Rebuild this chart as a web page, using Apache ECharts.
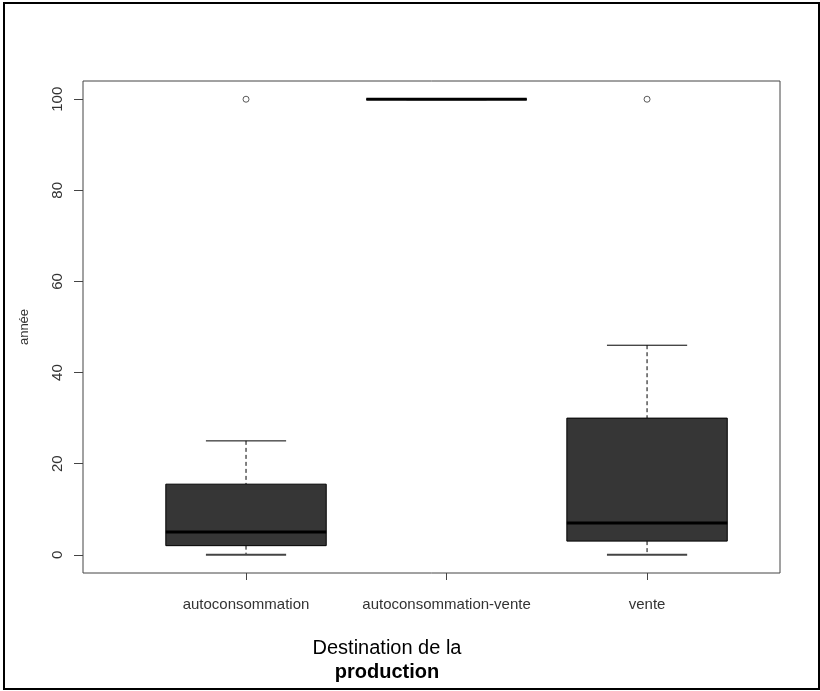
<!DOCTYPE html>
<html>
<head>
<meta charset="utf-8">
<script src="https://cdn.jsdelivr.net/npm/echarts@6/dist/echarts.min.js"></script>
<style>
html,body{margin:0;padding:0;background:#fff;}
#main{width:820px;height:691px;}
</style>
</head>
<body>
<div id="main"></div>
<script>
// ---- data ----
var categories = ['autoconsommation', 'autoconsommation-vente', 'vente'];
var whiskerLow = [0, 100, 0];
var q1 = [2, 100, 3];
var median = [5, 100, 7];
var q3 = [15.5, 100, 30];
var whiskerHigh = [25, 100, 46];
var outlierGroup = [1, 3];
var outlierValue = [100, 100];
var yTicks = [0, 20, 40, 60, 80, 100];
var xTicks = [1, 2, 3];

var boxData = categories.map(function (c, i) {
  return [i + 1, whiskerLow[i], q1[i], median[i], q3[i], whiskerHigh[i]];
});
var outlierData = outlierGroup.map(function (g, i) { return [g, outlierValue[i]]; });

var chart = echarts.init(document.getElementById('main'), null, {renderer: 'canvas'});
var FONT = 'Liberation Sans, Arial, sans-serif';

function renderBox(params, api) {
  var x = api.value(0);
  var lo = api.value(1), b1 = api.value(2), md = api.value(3), b3 = api.value(4), hi = api.value(5);
  var half = 0.4, capHalf = 0.2;
  var pHi = api.coord([x, hi]), pB3 = api.coord([x, b3]), pB1 = api.coord([x, b1]), pLo = api.coord([x, lo]);
  var boxL = api.coord([x - half, b3])[0], boxR = api.coord([x + half, b3])[0];
  var capL = api.coord([x - capHalf, hi])[0], capR = api.coord([x + capHalf, hi])[0];
  var pMd = api.coord([x, md]);
  var dashStyle = {stroke: '#000', lineWidth: 1, lineDash: [4, 3]};
  var solid = {stroke: '#000', lineWidth: 1};
  return {
    type: 'group',
    children: [
      {type: 'line', shape: {x1: pHi[0], y1: pHi[1], x2: pB3[0], y2: pB3[1]}, style: dashStyle},
      {type: 'line', shape: {x1: pB1[0], y1: pB1[1], x2: pLo[0], y2: pLo[1]}, style: dashStyle},
      {type: 'line', shape: {x1: capL, y1: pHi[1], x2: capR, y2: pHi[1]}, style: solid},
      {type: 'line', shape: {x1: capL, y1: pLo[1], x2: capR, y2: pLo[1]}, style: {stroke: '#444', lineWidth: 2}},
      {type: 'rect', shape: {x: boxL, y: pB3[1], width: boxR - boxL, height: pB1[1] - pB3[1]},
        style: {fill: '#363636', stroke: '#000', lineWidth: 1}},
      {type: 'line', shape: {x1: boxL, y1: pMd[1], x2: boxR, y2: pMd[1]}, style: {stroke: '#000', lineWidth: 3}}
    ]
  };
}

var option = {
  animation: false,
  backgroundColor: '#fff',
  grid: {left: 83, right: 40, top: 81, bottom: 118, show: true, borderColor: '#444', borderWidth: 1, backgroundColor: 'transparent'},
  xAxis: {
    type: 'value', min: 0.187, max: 3.663,
    axisLine: {show: false, onZero: false},
    splitLine: {show: false},
    axisTick: {show: true, inside: false, length: 7, customValues: xTicks, lineStyle: {color: '#444'}},
    axisLabel: {show: true, customValues: xTicks, margin: 24, color: '#333', fontFamily: FONT, fontSize: 15,
      formatter: function (v) { return categories[Math.round(v) - 1]; }}
  },
  yAxis: {
    type: 'value', min: -4, max: 104,
    name: 'année', nameLocation: 'middle', nameRotate: 90, nameGap: 52,
    nameTextStyle: {color: '#333', fontFamily: FONT, fontSize: 13},
    axisLine: {show: false, onZero: false},
    splitLine: {show: false},
    axisTick: {show: true, inside: false, length: 9, customValues: yTicks, lineStyle: {color: '#444'}},
    axisLabel: {show: true, customValues: yTicks, rotate: 90, margin: 18, color: '#333', fontFamily: FONT, fontSize: 15}
  },
  series: [
    {type: 'custom', renderItem: renderBox, data: boxData, encode: {x: 0, y: [1, 2, 3, 4, 5]}, z: 2},
    {type: 'scatter', data: outlierData, symbol: 'circle', symbolSize: 6,
      itemStyle: {color: '#fff', borderColor: '#333', borderWidth: 1}, z: 3}
  ],
  graphic: [
    {type: 'rect', shape: {x: 4, y: 3, width: 815, height: 686}, style: {fill: 'none', stroke: '#000', lineWidth: 2}, z: 10},
    {type: 'text', x: 387, y: 660, style: {
      text: '{a|Destination de la}\n{b|production}', align: 'center', verticalAlign: 'middle',
      rich: {
        a: {fontFamily: FONT, fontSize: 20, color: '#000', lineHeight: 24},
        b: {fontFamily: FONT, fontSize: 20, fontWeight: 'bold', color: '#000', lineHeight: 24}
      }
    }, z: 10}
  ]
};
chart.setOption(option);
</script>
</body>
</html>
